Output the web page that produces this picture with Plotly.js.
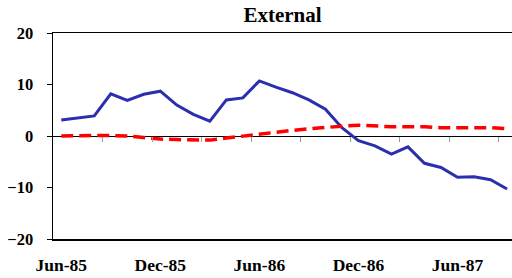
<!DOCTYPE html>
<html><head><meta charset="utf-8">
<script src="https://cdn.plot.ly/plotly-3.0.1.min.js"></script>
<style>html,body{margin:0;padding:0;background:#fff}#chart{width:512px;height:278px}</style>
</head><body><div id="chart"></div>
<script>
const months = ['Jun-85','Jul-85','Aug-85','Sep-85','Oct-85','Nov-85','Dec-85','Jan-86','Feb-86','Mar-86','Apr-86','May-86',
  'Jun-86','Jul-86','Aug-86','Sep-86','Oct-86','Nov-86','Dec-86','Jan-87','Feb-87','Mar-87','Apr-87','May-87',
  'Jun-87','Jul-87','Aug-87','Sep-87'];
const blueSeries = [3.1,3.5,3.9,8.2,6.9,8.1,8.7,6.0,4.2,2.9,7.0,7.4,
  10.7,9.5,8.4,7.0,5.2,1.6,-0.9,-1.9,-3.5,-2.1,-5.3,-6.1,-8.0,-7.9,-8.5,-10.3];
const redSeries = [0.0,0.1,0.1,0.1,0.0,-0.3,-0.6,-0.7,-0.8,-0.8,-0.4,0.0,
  0.3,0.7,1.1,1.4,1.7,1.9,2.1,1.9,1.8,1.8,1.8,1.6,1.6,1.5,1.6,1.4];
const tickLabels = ['Jun-85','Dec-85','Jun-86','Dec-86','Jun-87'];
const yTicks = [-20,-10,0,10,20];

const idx = months.map((_, i) => i);
const labelPos = tickLabels.map(t => months.indexOf(t));
const boundaryTicks = [];
for (let i = 2.5; i < months.length; i += 3) boundaryTicks.push(i);

const fam = 'Liberation Serif';
const xr = [-0.5, 27.3];

const traces = [
  {x: idx, y: redSeries, type: 'scatter', mode: 'lines', xaxis: 'x2', yaxis: 'y',
   line: {color: '#ff0000', width: 3.5, dash: '12px,6px'}, hoverinfo: 'skip'},
  {x: idx, y: blueSeries, type: 'scatter', mode: 'lines',
   line: {color: '#2b2fae', width: 3}, hoverinfo: 'skip'}
];

const layout = {
  width: 512, height: 278,
  margin: {l: 53, r: 0, t: 33, b: 39},
  paper_bgcolor: '#fff', plot_bgcolor: '#fff',
  showlegend: false,
  font: {family: fam, color: '#000'},
  title: {text: '<b>External</b>', font: {family: fam, size: 21, color: '#000'},
          x: 0.5, xref: 'paper', y: 1 - 15/278, yref: 'container', yanchor: 'middle'},
  xaxis: {range: xr, showgrid: false, zeroline: false, showline: true, mirror: true,
          linecolor: '#000', linewidth: 1.5, ticks: '', tickvals: labelPos, ticktext: tickLabels,
          tickfont: {family: fam, size: 17.5, color: '#000', weight: 'bold'},
          ticklabelstandoff: 9, fixedrange: true},
  xaxis2: {range: xr, overlaying: 'x', anchor: 'free', position: 0.5, side: 'bottom',
           showgrid: false, zeroline: false, showline: false, ticks: 'outside', ticklen: 5,
           tickwidth: 1, tickcolor: '#999', tickvals: boundaryTicks, showticklabels: false},
  yaxis: {range: [-20, 20], tickvals: yTicks, showgrid: false, zeroline: true,
          zerolinecolor: '#000', zerolinewidth: 1, showline: true, linecolor: '#000', linewidth: 1.5,
          ticks: 'outside', ticklen: 5, tickcolor: '#000', tickwidth: 1,
          ticklabelstandoff: 10,
          tickfont: {family: fam, size: 16.5, color: '#000', weight: 'bold'}}
};

Plotly.newPlot('chart', traces, layout, {displayModeBar: false, staticPlot: true});
</script></body></html>
